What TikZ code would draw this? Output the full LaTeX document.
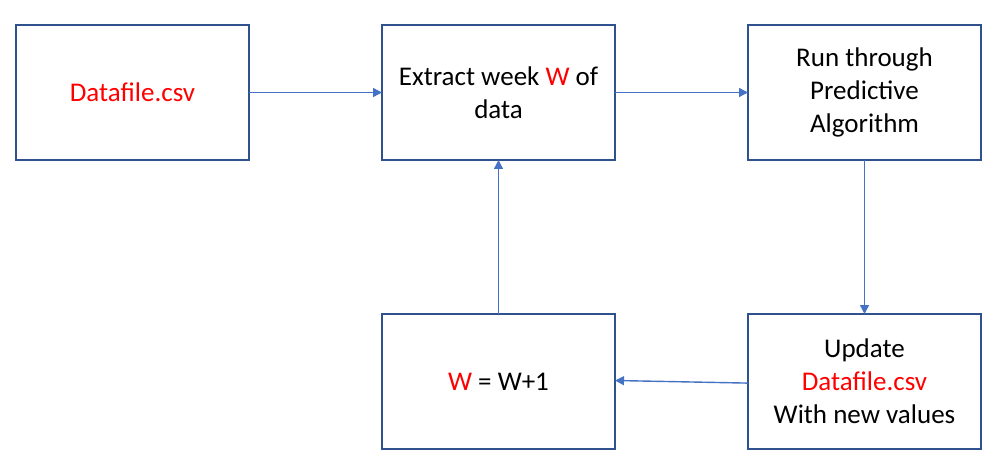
\documentclass[tikz,border=0pt]{standalone}
\usepackage{fontspec}
\setmainfont{Carlito}
\usepackage{xcolor}
\usetikzlibrary{positioning,arrows.meta}
\definecolor{boxblue}{HTML}{2F528F}
\definecolor{arrblue}{HTML}{4472C4}
\newcommand{\hl}[1]{\textcolor{red}{#1}}

\begin{document}
\begin{tikzpicture}[
  node distance=77pt and 66.5pt,
  box/.style={draw=boxblue, line width=1pt, outer sep=0pt, align=center, minimum width=116.5pt, minimum height=67.5pt, inner sep=2pt, font=\fontsize{13.5pt}{16.5pt}\selectfont},
  arr/.style={-{Triangle[length=4.5pt, width=4.5pt]}, line width=0.7pt, arrblue}]
\useasboundingbox (0,0) rectangle (499.5pt,-235pt);
\node[box, anchor=north west] (csv) at (8pt,-12.5pt) {\hl{Datafile.csv}};
\node[box, right=of csv] (extract) {Extract week \hl{W} of\\data};
\node[box, right=of extract] (algo) {Run through\\Predictive\\Algorithm};
\node[box, below=of algo] (upd) {Update\\\hl{Datafile.csv}\\With new values};
\node[box, below=of extract] (inc) {\hl{W} = W+1};
\draw[arr] (csv) -- (extract);
\draw[arr] (extract) -- (algo);
\draw[arr] (algo) -- (upd);
\draw[arr] ([yshift=-0.8pt]upd.west) -- ([yshift=0.5pt]inc.east);
\draw[arr] (inc) -- (extract);
\end{tikzpicture}
\end{document}
